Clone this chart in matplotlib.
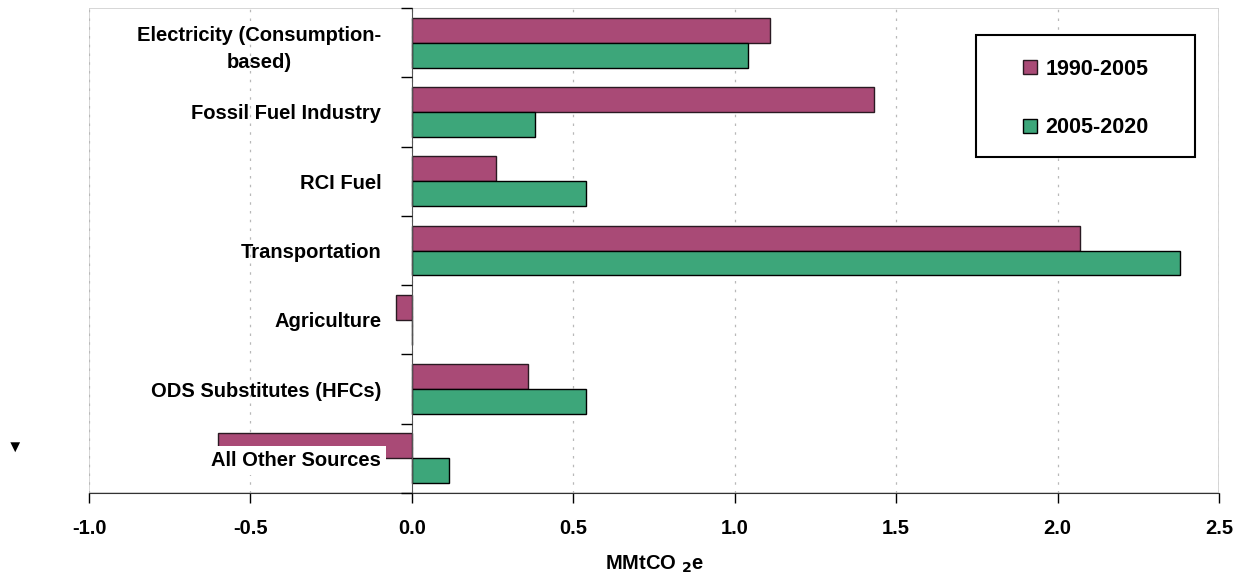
import numpy as np
import matplotlib.pyplot as plt
from matplotlib.patches import Rectangle

plt.rcParams['font.family'] = ['Liberation Sans', 'DejaVu Sans']
plt.rcParams['font.weight'] = 'bold'

# ─── Data ──────────────────────────────────────────────────────────────────────
sectors = [
    "Electricity (Consumption-\nbased)",
    "Fossil Fuel Industry",
    "RCI Fuel",
    "Transportation",
    "Agriculture",
    "ODS Substitutes (HFCs)",
    "All Other Sources",
]
growth_1990_2005 = [1.11, 1.43, 0.26, 2.07, -0.05, 0.36, -0.60]
growth_2005_2020 = [1.04, 0.38, 0.54, 2.38, 0.00, 0.54, 0.115]
periods = ["1990-2005", "2005-2020"]
xticks = [-1.0, -0.5, 0.0, 0.5, 1.0, 1.5, 2.0, 2.5]

c_early = "#A94A76"
c_late = "#3DA67A"
FS = 14.5

# ─── Figure ────────────────────────────────────────────────────────────────────
fig = plt.figure(figsize=(12.42, 5.76), dpi=100)
ax = fig.add_axes([0.0717, 0.1441, 0.9098, 0.842])

y = np.arange(len(sectors))
h = 0.36
ax.barh(y - h / 2, growth_1990_2005, height=h, color=c_early,
        edgecolor="#2a1a22", linewidth=1, label=periods[0], zorder=1.8)
ax.barh(y + h / 2, growth_2005_2020, height=h, color=c_late,
        edgecolor="black", linewidth=1, label=periods[1], zorder=1.8)

ax.set_xlim(-1.0, 2.5)
ax.set_ylim(len(sectors) - 0.5, -0.5)

# light grey plot-area border
ax.add_patch(Rectangle((0, 0), 1, 1, transform=ax.transAxes, fill=False,
                       edgecolor="#d0d0d0", linewidth=1.2, zorder=0.5))

# vertical dotted gridlines
ax.set_xticks(xticks)
ax.set_xticklabels([f"{v:.1f}" for v in xticks], fontsize=FS, fontweight="bold")
ax.grid(axis="x", color="#b8b8b8", linestyle=(0, (2, 5)), linewidth=0.9)
ax.tick_params(axis="x", direction="out", length=7, width=1, pad=12)

# category axis sits on x = 0, with marks between categories
ax.spines["left"].set_position(("data", 0))
ax.spines["left"].set_color("#555555")
ax.spines["right"].set_visible(False)
ax.spines["top"].set_visible(False)
ax.spines["bottom"].set_color("#333333")
ax.set_yticks(y)
ax.set_yticklabels(sectors, fontsize=FS, fontweight="bold")
ax.set_yticks(np.arange(len(sectors) + 1) - 0.5, minor=True)
ax.tick_params(axis="y", which="major", length=0, pad=22)
ax.tick_params(axis="y", which="minor", direction="out", length=8, width=1)
ax.yaxis.set_zorder(2.5)
for lbl in ax.get_yticklabels():
    lbl.set_multialignment("center")
    lbl.set_linespacing(1.55)
ax.get_yticklabels()[-1].set_bbox(dict(facecolor="white", edgecolor="none",
                                       boxstyle="square,pad=0.25"))

ax.set_xlabel("MMtCO $_\\mathbf{2}$e", fontsize=FS, fontweight="bold", labelpad=11)

# legend inside a hand-drawn frame
ax.add_patch(Rectangle((0.785, 0.693), 0.194, 0.251, transform=ax.transAxes,
                       facecolor="white", edgecolor="black", linewidth=1.5, zorder=4))
leg = ax.legend(loc="center", bbox_to_anchor=(0.785, 0.688, 0.194, 0.251),
                frameon=False, labelspacing=1.75, handlelength=0.65,
                handleheight=0.65, handletextpad=0.4,
                prop={"weight": "bold", "size": 15.5})
leg.set_zorder(5)

fig.text(15 / 1242, 1 - 447 / 576, "\u25BC", fontsize=12, ha="center", va="center")

fig.savefig("out.png", dpi=100)
